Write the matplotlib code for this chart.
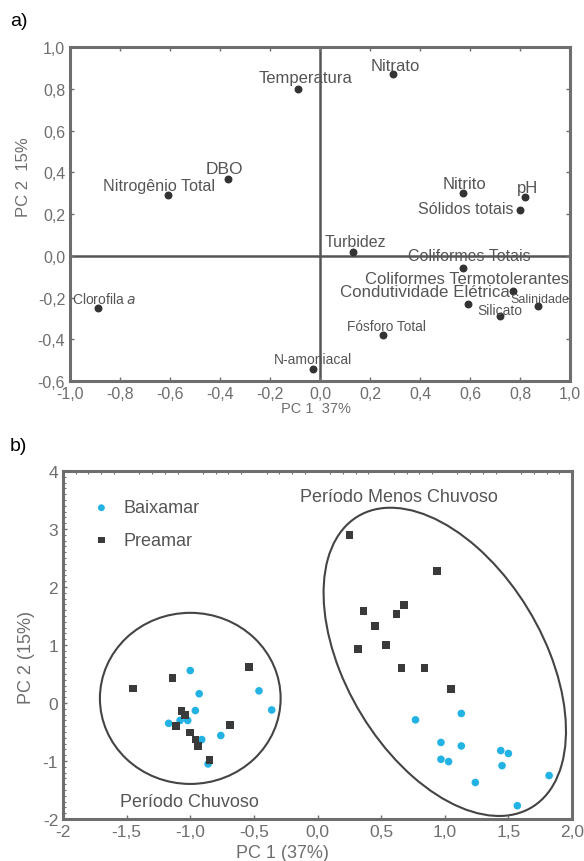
import matplotlib.pyplot as plt
from matplotlib.patches import Ellipse
from matplotlib.ticker import MultipleLocator

plt.rcParams['font.family'] = ['Liberation Sans', 'DejaVu Sans']
plt.rcParams['axes.unicode_minus'] = False

# panel a: PCA loadings of the water-quality variables
var_names = ['Temperatura', 'Nitrato', 'DBO', 'Nitrogênio Total', 'Nitrito', 'pH',
             'Sólidos totais', 'Turbidez', 'Coliformes Totais',
             'Coliformes Termotolerantes', 'Condutividade Elétrica', 'Salinidade',
             'Silicato', 'Fósforo Total', 'N-amoniacal', 'Clorofila $\\it{a}$']
pc1_load = [-0.09, 0.29, -0.37, -0.61, 0.57, 0.82, 0.80, 0.13, 0.57, 0.77, 0.59, 0.87,
            0.72, 0.25, -0.03, -0.89]
pc2_load = [0.80, 0.87, 0.37, 0.29, 0.30, 0.28, 0.22, 0.02, -0.06, -0.17, -0.23, -0.24,
            -0.29, -0.38, -0.54, -0.25]
# label offsets in points (dx, dy) and font size
lab_dx = [6, 2, -2, -6, 1.5, 1.5, -39, 2, 5, -33, -31, 1.5, 0, 3, 0, 5]
lab_dy = [8, 6.5, 7, 7, 7, 7, 0.7, 7, 9, 9.3, 8.6, 5, 4.3, 6.5, 6.5, 7]
lab_size = [12, 12, 12.5, 11.6, 12, 12, 11.5, 11.5, 11.5, 12, 12.2, 9, 10, 9.8, 10, 10]

a_xticks = [-1.0, -0.8, -0.6, -0.4, -0.2, 0.0, 0.2, 0.4, 0.6, 0.8, 1.0]
a_yticks = [-0.6, -0.4, -0.2, 0.0, 0.2, 0.4, 0.6, 0.8, 1.0]
a_xlabels = ['-1,0', '-0,8', '-0,6', '-0,4', '-0,2', '0,0', '0,2', '0,4', '0,6', '0,8', '1,0']
a_ylabels = ['-0,6', '-0,4', '-0,2', '0,0', '0,2', '0,4', '0,6', '0,8', '1,0']

# panel b: PCA scores
baixa_x = [-1.00, -0.93, -0.96, -1.17, -1.08, -1.02, -0.91, -0.76, -0.46, -0.36, -0.86,
           0.77, 1.13, 0.97, 1.13, 0.97, 1.03, 1.44, 1.50, 1.45, 1.24, 1.82, 1.57]
baixa_y = [0.56, 0.16, -0.13, -0.35, -0.30, -0.30, -0.63, -0.56, 0.21, -0.12, -1.05,
           -0.29, -0.18, -0.68, -0.74, -0.97, -1.01, -0.82, -0.87, -1.08, -1.37, -1.25, -1.77]
prea_x = [-1.45, -1.14, -0.54, -1.07, -1.04, -1.11, -1.00, -0.96, -0.94, -0.69, -0.85,
          0.25, 0.94, 0.68, 0.36, 0.62, 0.45, 0.54, 0.32, 0.66, 0.84, 1.05]
prea_y = [0.25, 0.43, 0.62, -0.14, -0.21, -0.40, -0.51, -0.63, -0.74, -0.38, -0.98,
          2.90, 2.28, 1.69, 1.59, 1.53, 1.33, 1.00, 0.93, 0.60, 0.60, 0.24]

b_xticks = [-2, -1.5, -1.0, -0.5, 0.0, 0.5, 1.0, 1.5, 2.0]
b_xlabels = ['-2', '-1,5', '-1,0', '-0,5', '0,0', '0,5', '1,0', '1,5', '2,0']
b_yticks = [-2, -1, 0, 1, 2, 3, 4]

gray = '#6e6e6e'
txt = '#555555'

fig = plt.figure(figsize=(5.84, 8.62), dpi=100)

# ---- panel a ----
ax = fig.add_axes([0.1199, 0.5568, 0.8562, 0.3875])
ax.set_xlim(-1, 1)
ax.set_ylim(-0.6, 1.0)
ax.axhline(0, color='#555555', lw=1.8, zorder=1)
ax.axvline(0, color='#555555', lw=1.8, zorder=1)
ax.scatter(pc1_load, pc2_load, s=22, color='#333333', zorder=3)
for i, name in enumerate(var_names):
    ax.annotate(name, (pc1_load[i], pc2_load[i]), xytext=(lab_dx[i], lab_dy[i]),
                textcoords='offset points', ha='center', va='center',
                fontsize=lab_size[i], color=txt)
ax.set_xticks(a_xticks)
ax.set_xticklabels(a_xlabels)
ax.set_yticks(a_yticks)
ax.set_yticklabels(a_ylabels)
ax.tick_params(direction='in', length=3, width=1, colors=gray, labelsize=11.5,
               top=True, right=True, labelcolor=gray)
for sp in ax.spines.values():
    sp.set_color(gray)
    sp.set_linewidth(2.2)
fig.text(0.04, 0.794, 'PC 2  15%', rotation=90, ha='center', va='center', fontsize=12, color=gray)
fig.text(0.541, 0.526, 'PC 1  37%', ha='center', va='center', fontsize=10.5, color=gray)
fig.text(0.017, 0.975, 'a)', fontsize=14, color='black', va='center')

# ---- panel b ----
bx = fig.add_axes([0.1079, 0.0487, 0.8716, 0.4037])
bx.set_xlim(-2, 2)
bx.set_ylim(-2, 4)
bx.scatter(baixa_x, baixa_y, s=30, marker='o', color='#22b2e4', edgecolors='none',
           label='Baixamar', zorder=3)
bx.scatter(prea_x, prea_y, s=30, marker='s', color='#3a3a3a', edgecolors='none',
           label='Preamar', zorder=3)
bx.add_patch(Ellipse((-1.0, 0.08), 1.42, 2.95, fill=False, ec='#444444', lw=1.5))
bx.add_patch(Ellipse((1.0, 0.71), 1.68, 5.39, angle=10.1, fill=False, ec='#444444', lw=1.5))
bx.text(-0.14, 3.56, 'Período Menos Chuvoso', fontsize=13, color=txt, ha='left', va='center')
bx.text(-1.55, -1.7, 'Período Chuvoso', fontsize=13, color=txt, ha='left', va='center')
bx.legend(loc='upper left', bbox_to_anchor=(0.008, 0.965), frameon=False, fontsize=13,
          labelcolor=txt, labelspacing=0.85, handletextpad=0.2, markerscale=0.9)
bx.set_xticks(b_xticks)
bx.set_xticklabels(b_xlabels)
bx.set_yticks(b_yticks)
bx.xaxis.set_minor_locator(MultipleLocator(0.1))
bx.yaxis.set_minor_locator(MultipleLocator(0.1))
bx.tick_params(which='major', direction='in', length=3, width=1, colors=gray,
               labelsize=12.5, labelcolor=gray)
bx.tick_params(which='minor', direction='in', length=2, width=0.8, colors=gray,
               bottom=False, top=True, left=True, right=False)
for sp in bx.spines.values():
    sp.set_color(gray)
    sp.set_linewidth(2.2)
fig.text(0.045, 0.237, 'PC 2 (15%)', rotation=90, ha='center', va='center', fontsize=13, color=gray)
fig.text(0.483, 0.01, 'PC 1 (37%)', ha='center', va='center', fontsize=13, color=gray)
fig.text(0.017, 0.482, 'b)', fontsize=14, color='black', va='center')

fig.savefig('out.png', dpi=100)
